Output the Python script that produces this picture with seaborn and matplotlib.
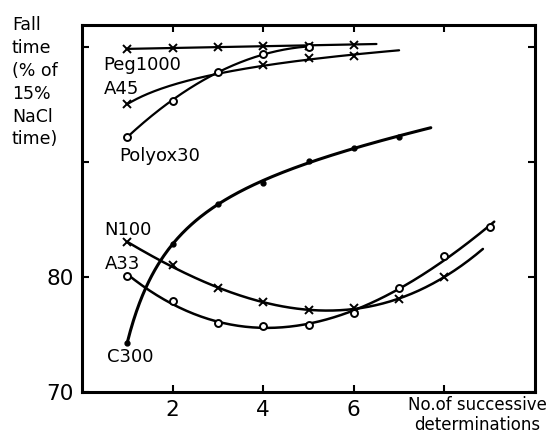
import numpy as np
import pandas as pd
import matplotlib
matplotlib.use('Agg')
import matplotlib.pyplot as plt
import seaborn as sns

# Values (fall time, % of 15% NaCl time)
peg1000_x = [1, 2, 3, 4, 5, 6]
peg1000_y = [99.8, 99.9, 100.0, 100.1, 100.1, 100.2]
a45_x = [1, 4, 5, 6]
a45_y = [95.0, 98.4, 99.0, 99.2]
polyox30_x = [1, 2, 3, 4, 5]
polyox30_y = [92.2, 95.3, 97.8, 99.4, 100.0]
c300_x = [1, 2, 3, 4, 5, 6, 7]
c300_y = [74.3, 82.9, 86.3, 88.2, 90.1, 91.2, 92.2]
n100_x = [1, 2, 3, 4, 5, 6, 7, 8]
n100_y = [83.0, 81.0, 79.0, 77.8, 77.1, 77.3, 78.1, 80.0]
a33_x = [1, 2, 3, 4, 5, 6, 7, 8, 9]
a33_y = [80.1, 77.9, 76.0, 75.7, 75.8, 76.9, 79.0, 81.8, 84.3]

x_ticks = [2, 4, 6, 8]
x_ticklabels = ['2', '4', '6', '']
y_ticks = [70, 80, 90, 100]
y_ticklabels = ['70', '80', '', '']

sns.set_theme(style='ticks')
plt.rcParams['font.family'] = ['DejaVu Sans']
plt.rcParams['text.color'] = 'black'

fig = plt.figure(figsize=(5.52, 4.41), dpi=100)
ax = fig.add_axes([82 / 552, 49 / 441, 453 / 552, 367 / 441])


def smooth_curve(x, y, order, x_end, logx=False):
    """Smooth fitted curve through the points, like the hand-drawn original."""
    x = np.asarray(x, float)
    xs = np.linspace(x.min(), x_end, 200)
    if logx:
        coef = np.polyfit(np.log(x), y, order)
        ys = np.polyval(coef, np.log(xs))
    else:
        coef = np.polyfit(x, y, order)
        ys = np.polyval(coef, xs)
    return pd.DataFrame({'x': xs, 'y': ys})


series = [
    # name, x, y, marker, fit order, curve end, log fit, line width
    ('Peg1000', peg1000_x, peg1000_y, 'x', 1, 6.5, False, 1.6),
    ('A45', a45_x, a45_y, 'x', 1, 7.0, True, 1.6),
    ('Polyox30', polyox30_x, polyox30_y, 'o', 2, 5.0, False, 1.6),
    ('C300', c300_x, c300_y, '.', 3, 7.7, True, 2.2),
    ('N100', n100_x, n100_y, 'x', 3, 8.85, False, 1.8),
    ('A33', a33_x, a33_y, 'o', 3, 9.1, False, 1.8),
]

for name, xv, yv, marker, order, x_end, logx, lw in series:
    curve = smooth_curve(xv, yv, order, x_end, logx)
    sns.lineplot(data=curve, x='x', y='y', ax=ax, color='black',
                 linewidth=lw, sort=False)
    if marker == 'x':
        ax.plot(xv, yv, ls='none', marker='x', ms=6, mew=1.4, color='black')
    elif marker == 'o':
        ax.plot(xv, yv, ls='none', marker='o', ms=5, mew=1.4,
                mfc='white', mec='black')
    else:
        ax.plot(xv, yv, ls='none', marker='o', ms=3.5, color='black')

# curve labels
labels = [
    ('Peg1000', 0.48, 98.4),
    ('A45', 0.48, 96.3),
    ('Polyox30', 0.83, 90.5),
    ('N100', 0.50, 84.1),
    ('A33', 0.50, 81.1),
    ('C300', 0.55, 73.0),
]
for text, lx, ly in labels:
    ax.text(lx, ly, text, fontsize=13, va='center', ha='left', color='black')

ax.set_xlim(0, 10)
ax.set_ylim(70, 101.9)
ax.set_xticks(x_ticks)
ax.set_xticklabels(x_ticklabels)
ax.set_yticks(y_ticks)
ax.set_yticklabels(y_ticklabels)
ax.set_xlabel('')
ax.set_ylabel('')
ax.tick_params(direction='in', length=5, width=1.5, labelsize=15.5,
               colors='black', top=True, right=True, pad=6)
for side in ['left', 'right', 'top', 'bottom']:
    ax.spines[side].set_visible(True)
    ax.spines[side].set_linewidth(2.2)
    ax.spines[side].set_color('black')

fig.text(12 / 552, 1 - 16 / 441, 'Fall\ntime\n(% of\n15%\nNaCl\ntime)',
         fontsize=12.5, ha='left', va='top', linespacing=1.35, color='black')
fig.text(477 / 552, 1 - 415 / 441, 'No.of successive\ndeterminations',
         fontsize=12, ha='center', va='center', linespacing=1.2, color='black')

fig.savefig('out.png', dpi=100, facecolor='white')
